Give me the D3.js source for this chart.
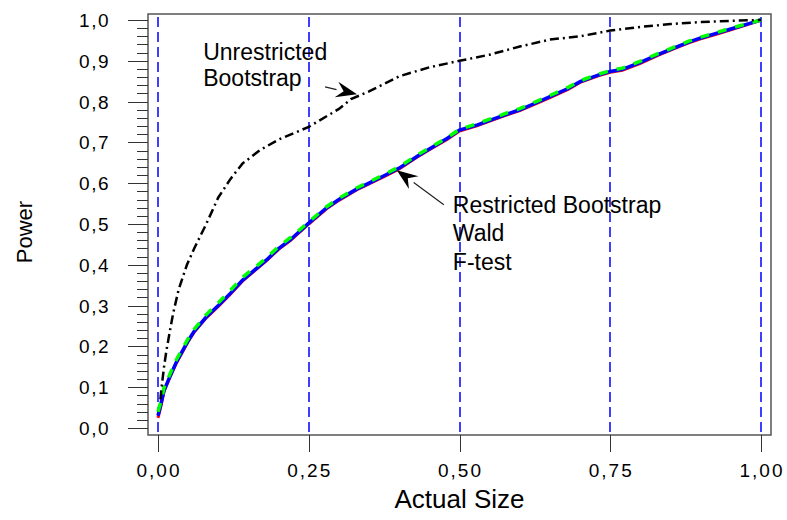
<!DOCTYPE html>
<html>
<head>
<meta charset="utf-8">
<script src="https://cdn.jsdelivr.net/npm/d3@7/dist/d3.min.js"></script>
<style>
  body { margin: 0; background: #fff; }
  text { font-family: "Liberation Sans", Arial, sans-serif; fill: #000; }
</style>
</head>
<body>
<svg width="787" height="520"></svg>
<script>
// restricted tests (bootstrap / wald / F) share one grid of sizes
var sizes = [0, 0.005, 0.01, 0.02, 0.03, 0.04, 0.05, 0.06, 0.08, 0.1, 0.12, 0.14, 0.16, 0.18, 0.2, 0.22,
  0.25, 0.28, 0.3, 0.33, 0.35, 0.38, 0.4, 0.43, 0.45, 0.48, 0.5, 0.53, 0.55, 0.58, 0.6, 0.63, 0.65,
  0.68, 0.7, 0.73, 0.75, 0.77, 0.8, 0.83, 0.85, 0.88, 0.9, 0.93, 0.95, 0.98, 1.0]
var restrictedBoot = [0.025, 0.055, 0.09, 0.125, 0.158, 0.185, 0.212, 0.235, 0.27, 0.298, 0.328, 0.36, 0.385, 0.41, 0.438, 0.46,
  0.5, 0.538, 0.558, 0.584, 0.598, 0.62, 0.635, 0.664, 0.682, 0.708, 0.728, 0.741, 0.752, 0.768, 0.778, 0.797, 0.81,
  0.83, 0.847, 0.863, 0.872, 0.877, 0.894, 0.914, 0.926, 0.944, 0.954, 0.967, 0.976, 0.99, 1.0]
var wald = [0.03, 0.06, 0.092, 0.127, 0.16, 0.187, 0.214, 0.237, 0.272, 0.3, 0.33, 0.362, 0.387, 0.412, 0.44, 0.462,
  0.502, 0.54, 0.56, 0.586, 0.6, 0.622, 0.637, 0.666, 0.684, 0.71, 0.73, 0.743, 0.754, 0.77, 0.78, 0.799, 0.812,
  0.832, 0.849, 0.865, 0.874, 0.879, 0.896, 0.916, 0.928, 0.946, 0.956, 0.969, 0.978, 0.991, 1.0]
var fTest = [0.04, 0.066, 0.099, 0.133, 0.166, 0.193, 0.219, 0.242, 0.278, 0.307, 0.337, 0.369, 0.393, 0.417, 0.445, 0.467,
  0.505, 0.543, 0.563, 0.589, 0.603, 0.625, 0.64, 0.669, 0.686, 0.712, 0.732, 0.746, 0.757, 0.773, 0.783, 0.802, 0.815,
  0.835, 0.851, 0.867, 0.876, 0.882, 0.899, 0.918, 0.93, 0.948, 0.958, 0.971, 0.98, 0.992, 1.0]

// unrestricted bootstrap has its own grid
var sizesU = [0.004, 0.006, 0.01, 0.014, 0.02, 0.025, 0.034, 0.04, 0.048, 0.06, 0.07, 0.08, 0.1, 0.12, 0.14,
  0.169, 0.2, 0.25, 0.3, 0.32, 0.35, 0.4, 0.45, 0.5, 0.55, 0.6, 0.65, 0.7, 0.75, 0.8, 0.85, 0.9, 0.95, 1.0]
var unrestricted = [0.07, 0.1, 0.15, 0.19, 0.24, 0.28, 0.338, 0.365, 0.4, 0.44, 0.47, 0.5, 0.565, 0.61, 0.648,
  0.681, 0.707, 0.738, 0.782, 0.806, 0.825, 0.862, 0.884, 0.9, 0.915, 0.935, 0.952, 0.96, 0.974, 0.983, 0.99, 0.995, 0.998, 1.0]

var xTicks = [0, 0.25, 0.5, 0.75, 1]
var yTicks = [0, 0.1, 0.2, 0.3, 0.4, 0.5, 0.6, 0.7, 0.8, 0.9, 1.0]
var yMinor = d3.range(0, 1.0001, 0.02)

var svg = d3.select("svg")
var x = d3.scaleLinear().domain([0, 1]).range([158, 761])
var y = d3.scaleLinear().domain([0, 1]).range([428, 20])
var frame = {left: 148, top: 14, right: 771, bottom: 435}
var crisp = v => Math.round(v) + 0.5
var comma = d => d3.format(".2f")(d).replace(".", ",")
var comma1 = d => d3.format(".1f")(d).replace(".", ",")

// frame
svg.append("rect")
  .attr("x", frame.left).attr("y", frame.top)
  .attr("width", frame.right - frame.left).attr("height", frame.bottom - frame.top)
  .attr("fill", "none").attr("stroke", "#555").attr("stroke-width", 1.5)

// blue dashed gridlines
svg.append("g").selectAll("line").data(xTicks).enter().append("line")
  .attr("x1", d => Math.round(x(d))).attr("x2", d => Math.round(x(d)))
  .attr("y1", frame.top + 3).attr("y2", frame.bottom)
  .attr("stroke", "#0000ff").attr("stroke-width", 1.5)
  .attr("stroke-dasharray", "10,5")

// y axis ticks (outside the frame)
var yg = svg.append("g")
yg.selectAll("line.minor").data(yMinor).enter().append("line")
  .attr("x1", frame.left - 11).attr("x2", frame.left)
  .attr("y1", d => crisp(y(d))).attr("y2", d => crisp(y(d)))
  .attr("stroke", "#333").attr("stroke-width", 1)
yg.selectAll("line.major").data(yTicks).enter().append("line")
  .attr("x1", frame.left - 20).attr("x2", frame.left)
  .attr("y1", d => crisp(y(d))).attr("y2", d => crisp(y(d)))
  .attr("stroke", "#333").attr("stroke-width", 1)
yg.selectAll("text").data(yTicks).enter().append("text")
  .attr("x", 110).attr("y", d => y(d) + 7)
  .attr("text-anchor", "end")
  .style("font-size", "19px").style("letter-spacing", "1.5px")
  .text(comma1)

// x axis ticks
var xg = svg.append("g")
xg.selectAll("line").data(xTicks).enter().append("line")
  .attr("x1", d => crisp(x(d))).attr("x2", d => crisp(x(d)))
  .attr("y1", frame.bottom).attr("y2", frame.bottom + 17)
  .attr("stroke", "#333").attr("stroke-width", 1)
xg.selectAll("text").data(xTicks).enter().append("text")
  .attr("x", d => x(d) + 1).attr("y", 477)
  .attr("text-anchor", "middle")
  .style("font-size", "19px").style("letter-spacing", "2px")
  .text(comma)

// axis titles
svg.append("text").attr("x", (x(0) + x(1)) / 2).attr("y", 508)
  .attr("text-anchor", "middle").style("font-size", "26px").text("Actual Size")
svg.append("text").attr("transform", "translate(32," + 232 + ") rotate(-90)")
  .attr("text-anchor", "middle").style("font-size", "22px").text("Power")

// curves
var line = d3.line().x(d => x(d[0])).y(d => y(d[1]))
var series = [
  {vals: restrictedBoot, color: "#ff0000", width: 3, dash: null},
  {vals: wald, color: "#0000ff", width: 3.5, dash: null},
  {vals: fTest, color: "#00ff00", width: 3.5, dash: "9,9"}
]
series.forEach(s => {
  svg.append("path")
    .datum(sizes.map((v, i) => [v, s.vals[i]]))
    .attr("d", line)
    .attr("fill", "none").attr("stroke", s.color)
    .attr("stroke-width", s.width)
    .attr("stroke-dasharray", s.dash)
})
svg.append("path")
  .datum(sizesU.map((v, i) => [v, unrestricted[i]]))
  .attr("d", line)
  .attr("fill", "none").attr("stroke", "#000")
  .attr("stroke-width", 2.5)
  .attr("stroke-dasharray", "9,4,2,4")

// annotations (data coordinates)
var labels = [
  {x: 0.075, y: 0.902, text: "Unrestricted"},
  {x: 0.075, y: 0.838, text: "Bootstrap"},
  {x: 0.489, y: 0.527, text: "Restricted Bootstrap"},
  {x: 0.489, y: 0.458, text: "Wald"},
  {x: 0.489, y: 0.387, text: "F-test"}
]
svg.append("g").selectAll("text").data(labels).enter().append("text")
  .attr("x", d => x(d.x)).attr("y", d => y(d.y))
  .style("font-size", "23px")
  .text(d => d.text)

var arrows = [
  {from: [0.277, 0.836], to: [0.33, 0.818]},
  {from: [0.474, 0.547], to: [0.396, 0.632]}
]
arrows.forEach(a => {
  var x0 = x(a.from[0]), y0 = y(a.from[1]), x1 = x(a.to[0]), y1 = y(a.to[1])
  var ang = Math.atan2(y1 - y0, x1 - x0)
  var len = 21, half = 8
  var bx = x1 - len * Math.cos(ang), by = y1 - len * Math.sin(ang)
  svg.append("line").attr("x1", x0).attr("y1", y0).attr("x2", bx).attr("y2", by)
    .attr("stroke", "#222").attr("stroke-width", 1.2)
  var pts = [
    [x1, y1],
    [bx + half * Math.sin(ang), by - half * Math.cos(ang)],
    [x1 - len * 0.65 * Math.cos(ang), y1 - len * 0.65 * Math.sin(ang)],
    [bx - half * Math.sin(ang), by + half * Math.cos(ang)]
  ]
  svg.append("path").attr("d", "M" + pts.join("L") + "Z").attr("fill", "#000")
})
</script>
</body>
</html>
